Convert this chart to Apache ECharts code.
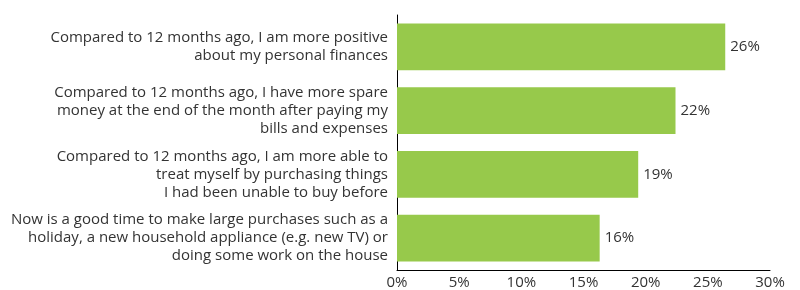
<!DOCTYPE html>
<html>
<head>
<meta charset="utf-8">
<script src="https://cdn.jsdelivr.net/npm/echarts@6/dist/echarts.min.js"></script>
<style>
  html, body { margin: 0; padding: 0; background: #fff; }
  #chart { width: 800px; height: 290px; }
</style>
</head>
<body>
<div id="chart"></div>
<script>
// statements, top to bottom
var statements = [
    'Compared to 12 months ago, I am more positive\nabout my personal finances',
    'Compared to 12 months ago, I have more spare\nmoney at the end of the month after paying my\nbills and expenses',
    'Compared to 12 months ago, I am more able to\ntreat myself by purchasing things\nI had been unable to buy before',
    'Now is a good time to make large purchases such as a\nholiday, a new household appliance (e.g. new TV) or\ndoing some work on the house'
];
// share agreeing (%)
var shares = [26.4, 22.4, 19.4, 16.3];
var shareLabels = ['26%', '22%', '19%', '16%'];

var FONT = '"Open Sans", "Noto Sans", sans-serif';

var chart = echarts.init(document.getElementById('chart'));
chart.setOption({
    animation: false,
    grid: { left: 397, right: 30, top: 15, bottom: 18, containLabel: false },
    xAxis: {
        type: 'value',
        min: 0,
        max: 30,
        interval: 5,
        axisLine: { show: true, lineStyle: { color: '#000', width: 1 } },
        axisTick: { show: false },
        splitLine: { show: false },
        axisLabel: {
            formatter: '{value}%',
            color: '#333',
            fontSize: 15,
            fontFamily: FONT,
            margin: 5
        }
    },
    yAxis: {
        type: 'category',
        inverse: true,
        data: statements,
        axisLine: { show: true, lineStyle: { color: '#000', width: 1 } },
        axisTick: { show: false },
        axisLabel: {
            color: '#333',
            fontSize: 15,
            fontFamily: FONT,
            lineHeight: 18,
            align: 'right',
            margin: 9
        }
    },
    series: [{
        type: 'bar',
        data: shares,
        barCategoryGap: '27%',
        itemStyle: { color: '#97C94B' },
        label: {
            show: true,
            position: 'right',
            distance: 5,
            color: '#333',
            fontSize: 15,
            fontFamily: FONT,
            formatter: function (p) { return shareLabels[p.dataIndex]; }
        }
    }]
});
</script>
</body>
</html>
